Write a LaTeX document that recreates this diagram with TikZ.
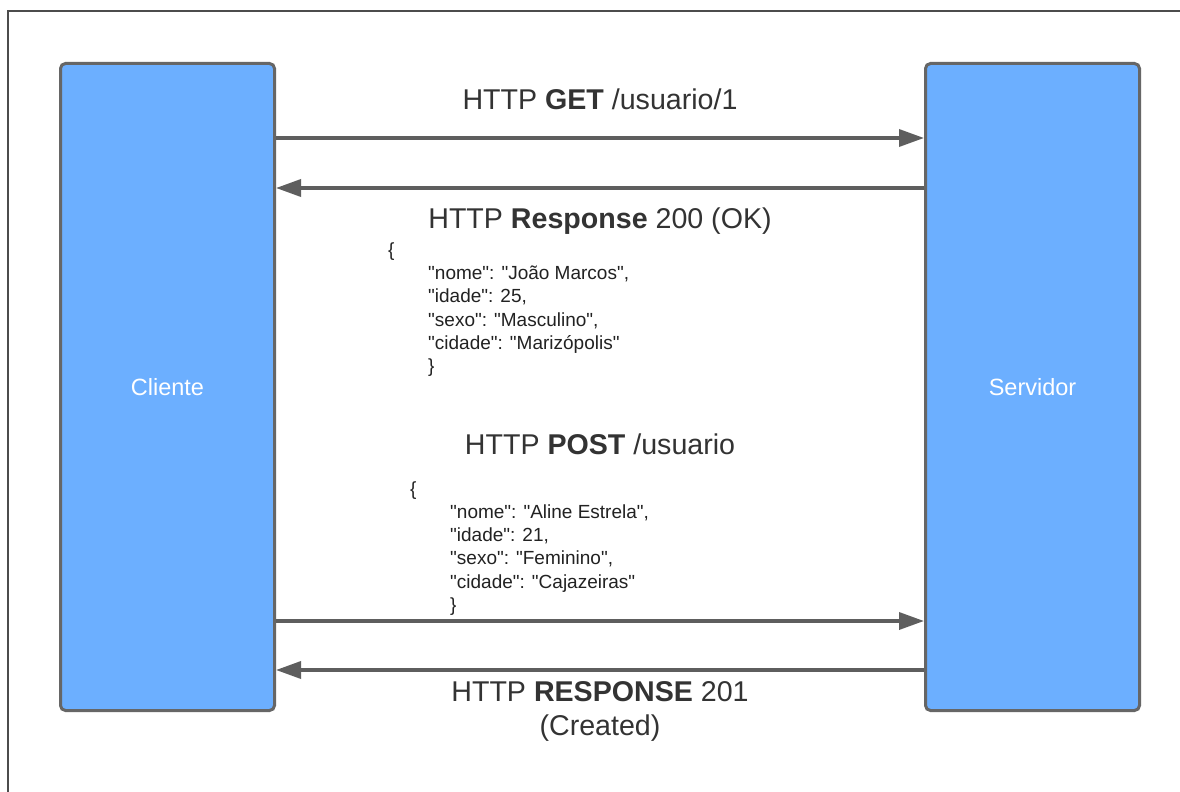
\documentclass[tikz,border=0pt]{standalone}
\usepackage{fontspec}
\setmainfont{Liberation Sans}
% straight double quotes for the JSON bodies
\newfontfamily\codefont{Liberation Sans}[Ligatures=TeXOff]
\usetikzlibrary{arrows.meta}
\definecolor{boxblue}{HTML}{6CAFFF}
\definecolor{edgegray}{HTML}{666666}
\definecolor{arrowgray}{HTML}{5E5E5E}
\definecolor{ink}{HTML}{333333}
\definecolor{codeink}{HTML}{222222}

\begin{document}
\begin{tikzpicture}[x=1pt,y=-1pt,
  party/.style={draw=edgegray, line width=3pt, fill=boxblue, rounded corners=5pt,
    minimum width=214pt, minimum height=647pt, inner sep=0pt,
    text=white, font=\fontsize{23.5}{28}\selectfont},
  msg/.style={draw=arrowgray, line width=3.5pt, -{Triangle[length=25pt,width=17pt]}},
  title/.style={anchor=base, inner sep=0pt, text=ink, font=\fontsize{28.6}{34}\selectfont},
  json/.style={anchor=base west, inner sep=0pt, text=codeink, font=\codefont\fontsize{19}{23}\selectfont}]

  \useasboundingbox (0,0) rectangle (1180,792);
  \fill[white] (0,0) rectangle (1180,792);

  % outer frame (top and left edges)
  \draw[line width=1.5pt, color=black!70] (8,792) -- (8,11) -- (1180,11);

  % the two parties
  \node[party] (cli) at (167.5,387) {Cliente};
  \node[party] (srv) at (1032.5,387) {Servidor};

  % messages
  \draw[msg] (cli.east |- 0,138) -- (srv.west |- 0,138);
  \draw[msg] (srv.west |- 0,188) -- (cli.east |- 0,188);
  \draw[msg] (cli.east |- 0,621) -- (srv.west |- 0,621);
  \draw[msg] (srv.west |- 0,670) -- (cli.east |- 0,670);

  % message labels
  \node[title] (get) at (600,109) {HTTP \textbf{GET} /usuario/1};
  \node[title] (resp) at (600,228) {HTTP \textbf{Response} 200 (OK)};
  \node[title] (post) at (600,454) {HTTP \textbf{POST} /usuario};
  \node[title] (created1) at (600,701) {HTTP \textbf{RESPONSE} 201};
  \node[title] (created2) at (600,735) {(Created)};

  % response body
  \node[json] (ra) at (388,256) {\{};
  \node[json] (rb) at (428,279.5) {"nome": "João Marcos",};
  \node[json] (rc) at (428,302.8) {"idade": 25,};
  \node[json] (rd) at (428,326) {"sexo": "Masculino",};
  \node[json] (re) at (428,349.3) {"cidade": "Marizópolis"};
  \node[json] (rf) at (428,372.5) {\}};

  % request body
  \node[json] (pa) at (410,495) {\{};
  \node[json] (pb) at (450,518.3) {"nome": "Aline Estrela",};
  \node[json] (pc) at (450,541.6) {"idade": 21,};
  \node[json] (pd) at (450,564.9) {"sexo": "Feminino",};
  \node[json] (pe) at (450,588.2) {"cidade": "Cajazeiras"};
  \node[json] (pf) at (450,611.5) {\}};
\end{tikzpicture}
\end{document}
